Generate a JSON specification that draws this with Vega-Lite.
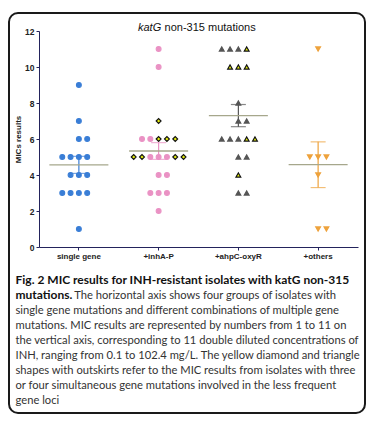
{
  "$schema": "https://vega.github.io/schema/vega-lite/v6.json",
  "width": 356,
  "height": 400,
  "autosize": "none",
  "padding": {"left": 9, "top": 13, "right": 8, "bottom": 8},
  "background": "white",
  "config": {
    "view": {"stroke": "#1a1a1a", "strokeWidth": 2, "cornerRadius": 9, "fill": "white"},
    "font": "Liberation Sans"
  },
  "title": {
    "text": "katG",
    "subtitle": "\u200b\u2003\u2003\u2005\u2006non-315 mutations",
    "anchor": "start",
    "frame": "group",
    "align": "left",
    "dx": 129,
    "offset": -20,
    "font": "Liberation Sans",
    "fontSize": 11,
    "fontStyle": "italic",
    "fontWeight": "normal",
    "color": "#111",
    "subtitleFont": "Liberation Sans",
    "subtitleFontSize": 11,
    "subtitleColor": "#111",
    "subtitlePadding": -11
  },
  "data": {
    "values": [
      {"group": "single gene", "kind": "single gene", "value": 9, "slot": 0},
      {"group": "single gene", "kind": "single gene", "value": 7, "slot": 0},
      {"group": "single gene", "kind": "single gene", "value": 6, "slot": 0},
      {"group": "single gene", "kind": "single gene", "value": 6, "slot": 1},
      {"group": "single gene", "kind": "single gene", "value": 5, "slot": -2},
      {"group": "single gene", "kind": "single gene", "value": 5, "slot": -1},
      {"group": "single gene", "kind": "single gene", "value": 5, "slot": 0},
      {"group": "single gene", "kind": "single gene", "value": 5, "slot": 1},
      {"group": "single gene", "kind": "single gene", "value": 4, "slot": -1},
      {"group": "single gene", "kind": "single gene", "value": 4, "slot": 0},
      {"group": "single gene", "kind": "single gene", "value": 4, "slot": 1},
      {"group": "single gene", "kind": "single gene", "value": 3, "slot": -2},
      {"group": "single gene", "kind": "single gene", "value": 3, "slot": -1},
      {"group": "single gene", "kind": "single gene", "value": 3, "slot": 0},
      {"group": "single gene", "kind": "single gene", "value": 3, "slot": 1},
      {"group": "single gene", "kind": "single gene", "value": 1, "slot": 0},

      {"group": "+inhA-P", "kind": "inhA-P", "value": 11, "slot": 0},
      {"group": "+inhA-P", "kind": "inhA-P", "value": 10, "slot": 0},
      {"group": "+inhA-P", "kind": "inhA-P multi", "value": 7, "slot": 0},
      {"group": "+inhA-P", "kind": "inhA-P", "value": 6, "slot": -2},
      {"group": "+inhA-P", "kind": "inhA-P", "value": 6, "slot": -1},
      {"group": "+inhA-P", "kind": "inhA-P multi", "value": 6, "slot": 0},
      {"group": "+inhA-P", "kind": "inhA-P multi", "value": 6, "slot": 1},
      {"group": "+inhA-P", "kind": "inhA-P multi", "value": 6, "slot": 2},
      {"group": "+inhA-P", "kind": "inhA-P multi", "value": 5, "slot": -3},
      {"group": "+inhA-P", "kind": "inhA-P multi", "value": 5, "slot": -2},
      {"group": "+inhA-P", "kind": "inhA-P", "value": 5, "slot": -1},
      {"group": "+inhA-P", "kind": "inhA-P", "value": 5, "slot": 0},
      {"group": "+inhA-P", "kind": "inhA-P", "value": 5, "slot": 1},
      {"group": "+inhA-P", "kind": "inhA-P multi", "value": 5, "slot": 2},
      {"group": "+inhA-P", "kind": "inhA-P multi", "value": 5, "slot": 3},
      {"group": "+inhA-P", "kind": "inhA-P", "value": 4, "slot": 0},
      {"group": "+inhA-P", "kind": "inhA-P", "value": 4, "slot": 1},
      {"group": "+inhA-P", "kind": "inhA-P", "value": 3, "slot": -1},
      {"group": "+inhA-P", "kind": "inhA-P", "value": 3, "slot": 0},
      {"group": "+inhA-P", "kind": "inhA-P", "value": 3, "slot": 1},
      {"group": "+inhA-P", "kind": "inhA-P", "value": 2, "slot": 0},

      {"group": "+ahpC-oxyR", "kind": "ahpC-oxyR", "value": 11, "slot": -2},
      {"group": "+ahpC-oxyR", "kind": "ahpC-oxyR", "value": 11, "slot": -1},
      {"group": "+ahpC-oxyR", "kind": "ahpC-oxyR", "value": 11, "slot": 0},
      {"group": "+ahpC-oxyR", "kind": "ahpC-oxyR multi", "value": 11, "slot": 1},
      {"group": "+ahpC-oxyR", "kind": "ahpC-oxyR multi", "value": 10, "slot": -1},
      {"group": "+ahpC-oxyR", "kind": "ahpC-oxyR multi", "value": 10, "slot": 0},
      {"group": "+ahpC-oxyR", "kind": "ahpC-oxyR multi", "value": 10, "slot": 1},
      {"group": "+ahpC-oxyR", "kind": "ahpC-oxyR", "value": 8, "slot": 0},
      {"group": "+ahpC-oxyR", "kind": "ahpC-oxyR", "value": 7, "slot": 0},
      {"group": "+ahpC-oxyR", "kind": "ahpC-oxyR", "value": 7, "slot": 1},
      {"group": "+ahpC-oxyR", "kind": "ahpC-oxyR", "value": 6, "slot": -2},
      {"group": "+ahpC-oxyR", "kind": "ahpC-oxyR", "value": 6, "slot": -1},
      {"group": "+ahpC-oxyR", "kind": "ahpC-oxyR", "value": 6, "slot": 0},
      {"group": "+ahpC-oxyR", "kind": "ahpC-oxyR multi", "value": 6, "slot": 1},
      {"group": "+ahpC-oxyR", "kind": "ahpC-oxyR multi", "value": 6, "slot": 2},
      {"group": "+ahpC-oxyR", "kind": "ahpC-oxyR", "value": 5, "slot": 0},
      {"group": "+ahpC-oxyR", "kind": "ahpC-oxyR", "value": 5, "slot": 1},
      {"group": "+ahpC-oxyR", "kind": "ahpC-oxyR multi", "value": 4, "slot": 0},
      {"group": "+ahpC-oxyR", "kind": "ahpC-oxyR", "value": 3, "slot": 0},
      {"group": "+ahpC-oxyR", "kind": "ahpC-oxyR", "value": 3, "slot": 1},

      {"group": "+others", "kind": "others", "value": 11, "slot": 0},
      {"group": "+others", "kind": "others", "value": 5, "slot": -1},
      {"group": "+others", "kind": "others", "value": 5, "slot": 0},
      {"group": "+others", "kind": "others", "value": 5, "slot": 1},
      {"group": "+others", "kind": "others", "value": 4, "slot": 0},
      {"group": "+others", "kind": "others", "value": 1, "slot": 0},
      {"group": "+others", "kind": "others", "value": 1, "slot": 1}
    ]
  },
  "layer": [
    {
      "mark": {"type": "point", "filled": true, "size": 24, "strokeWidth": 1.1, "opacity": 1},
      "encoding": {
        "x": {
          "field": "group", "type": "nominal",
          "sort": ["single gene", "+inhA-P", "+ahpC-oxyR", "+others"],
          "scale": {"type": "band", "range": [30, 349], "paddingInner": 0, "paddingOuter": 0},
          "axis": {
            "orient": "bottom", "offset": -166, "labelAngle": 0,
            "labelFont": "Liberation Sans", "labelFontWeight": "bold", "labelFontSize": 8, "labelColor": "#222",
            "labelPadding": 2, "domainColor": "#23235c", "tickColor": "#23235c", "tickSize": 3,
            "title": ["Fig. 2 MIC results for INH-resistant isolates with katG non-315", "mutations."],
            "titleX": 6, "titleY": 36, "titleAlign": "left", "titleAnchor": "start", "titleBaseline": "alphabetic",
            "titleFont": "Lato", "titleFontSize": 12, "titleFontWeight": "bold", "titleLineHeight": 15.1, "titleColor": "#111"
          }
        },
        "xOffset": {"field": "slot", "type": "quantitative", "scale": {"domain": [-4.8, 4.8]}},
        "y": {
          "field": "value", "type": "quantitative",
          "scale": {"domain": [0, 12], "range": [234, 18], "nice": false, "zero": false},
          "title": "MICs results",
          "axis": {
            "values": [0, 1, 2, 3, 4, 5, 6, 7, 8, 9, 10, 11, 12], "offset": -30, "grid": false, "labelOverlap": false,
            "domainColor": "#23235c", "tickColor": "#23235c", "tickSize": 3,
            "labelFont": "Liberation Sans", "labelFontWeight": "bold", "labelFontSize": 8.5, "labelColor": "#222", "labelPadding": 2,
            "titleFont": "Liberation Sans", "titleFontSize": 8, "titleFontWeight": "bold", "titleColor": "#222",
            "titleX": -21, "titleY": 126, "titleBaseline": "middle", "titleAlign": "center", "titleAngle": -90
          }
        },
        "color": {
          "field": "kind", "type": "nominal",
          "scale": {
            "domain": ["single gene", "inhA-P", "inhA-P multi", "ahpC-oxyR", "ahpC-oxyR multi", "others"],
            "range": ["#3a7ed6", "#ea92c4", "#e4ee10", "#555555", "#e4ee10", "#eea23c"]
          },
          "legend": null
        },
        "stroke": {
          "field": "kind", "type": "nominal",
          "scale": {
            "domain": ["single gene", "inhA-P", "inhA-P multi", "ahpC-oxyR", "ahpC-oxyR multi", "others"],
            "range": ["#3a7ed6", "#ea92c4", "#111111", "#555555", "#111111", "#eea23c"]
          },
          "legend": null
        },
        "shape": {
          "field": "kind", "type": "nominal",
          "scale": {
            "domain": ["single gene", "inhA-P", "inhA-P multi", "ahpC-oxyR", "ahpC-oxyR multi", "others"],
            "range": ["circle", "circle", "diamond", "triangle-up", "triangle-up", "triangle-down"]
          },
          "legend": null
        }
      }
    },
    {
      "mark": {"type": "errorbar", "extent": "stderr", "ticks": {"size": 15}, "thickness": 1.2},
      "encoding": {
        "x": {
          "field": "group", "type": "nominal",
          "sort": ["single gene", "+inhA-P", "+ahpC-oxyR", "+others"],
          "scale": {"type": "band", "range": [30, 349], "paddingInner": 0, "paddingOuter": 0},
          "axis": null
        },
        "y": {
          "field": "value", "type": "quantitative",
          "scale": {"domain": [0, 12], "range": [234, 18], "nice": false, "zero": false},
          "title": "MICs results"
        },
        "color": {
          "field": "group", "type": "nominal",
          "scale": {
            "domain": ["single gene", "+inhA-P", "+ahpC-oxyR", "+others"],
            "range": ["#3a7ed6", "#ea92c4", "#555555", "#eea23c"]
          },
          "legend": null
        }
      }
    },
    {
      "mark": {"type": "tick", "size": 59, "thickness": 1.3, "color": "#a6a78c", "opacity": 1},
      "encoding": {
        "x": {
          "field": "group", "type": "nominal",
          "sort": ["single gene", "+inhA-P", "+ahpC-oxyR", "+others"],
          "scale": {"type": "band", "range": [30, 349], "paddingInner": 0, "paddingOuter": 0},
          "axis": {
            "orient": "top", "labels": false, "ticks": false, "domain": false, "grid": false,
            "title": [
              "\u200b\u2003\u2003\u2003\u2003\u2003\u2003\u2003The horizontal axis shows four groups of isolates with",
              "single gene mutations and different combinations of multiple gene",
              "mutations. MIC results are represented by numbers from 1 to 11 on",
              "the vertical axis, corresponding to 11 double diluted concentrations of",
              "INH, ranging from 0.1 to 102.4 mg/L. The yellow diamond and triangle",
              "shapes with outskirts refer to the MIC results from isolates with three",
              "or four simultaneous gene mutations involved in the less frequent",
              "gene loci"
            ],
            "titleX": 6, "titleY": 285.1, "titleAlign": "left", "titleAnchor": "start", "titleBaseline": "alphabetic",
            "titleFont": "Lato", "titleFontSize": 11.2, "titleFontWeight": "normal", "titleLineHeight": 15.1, "titleColor": "#333"
          }
        },
        "y": {
          "aggregate": "mean", "field": "value", "type": "quantitative",
          "scale": {"domain": [0, 12], "range": [234, 18], "nice": false, "zero": false},
          "title": "MICs results"
        }
      }
    }
  ],
  "resolve": {"scale": {"color": "independent"}, "axis": {"x": "independent"}}
}
